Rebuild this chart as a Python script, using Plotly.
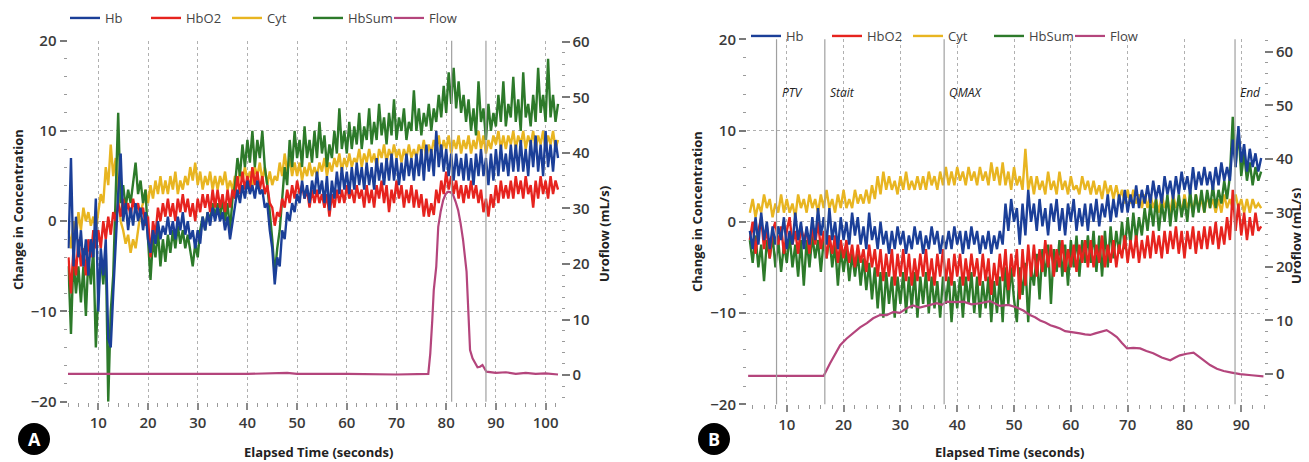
import numpy as np
import plotly.graph_objects as go
from plotly.subplots import make_subplots

# ---------------- data ----------------
STEP = 0.5          # sampling interval of the NIRS traces (s)
A_T0 = 4.0          # first sample time, panel A
B_T0 = 3.5          # first sample time, panel B

hb_a = [-3, 7, -5, 0.5, -4, -1, -5, -2, -6, -2, -4, 2.5, -10, -3, -6, -2, -13, -14, -8, -2,
        3, 7.5, 0, 2, -1, 1.5, -0.5, 2, 0, 1.5, -1, 1, -2, -3.5, -1, -2.5, 0, -2, -0.5, -1.5,
        0.5, -1.5, 0, -2, 0.5, -1, 1, -1.5, 0, -2, -1, -3, -1, -2.5, 0.5, -1, 1, -0.5, 1.5, 0,
        1.5, 0, 1, -1, 0.5, -2, 0, 1.5, 3.5, 2, 4, 2.5, 4.5, 3, 4, 2.5, 4.5, 3, 3.5, 1.5,
        2, -1, -3, -7, -4, -5, -1, -2, 1, 0, 2, 1, 3, 2, 4.5, 2.5, 4, 2, 4.5, 3,
        5.5, 3, 4.5, 2, 5, 1.2, 4.5, 2.5, 5.5, 3, 6, 3.5, 5.5, 3, 6, 3.5, 6.5, 4, 6, 3.5,
        6.5, 4, 6, 3.5, 7, 4.5, 6.5, 4, 7, 4.5, 7.5, 4.5, 7, 4, 6.5, 4.5, 7.5, 5, 7, 4.5,
        7.5, 5, 8, 4.5, 8.5, 5.5, 8, 5, 10, 6, 8.5, 5.5, 8, 5, 7.5, 4.5, 7.5, 5, 7, 4.5,
        7.5, 4.5, 7, 4, 7.5, 5, 8, 5, 7, 4, 7.5, 4.5, 8, 5, 8.5, 5.5, 7.5, 5, 8.5, 5.5,
        8.5, 5.5, 9, 5.5, 8, 5, 9, 6, 9.5, 5.5, 8.5, 5, 10, 6, 8.5, 5.5, 9, 7]

hbo2_a = [-4, -8, -3, -6, -2, -5, -3, -6, -2, -4, -1, -3, -1, -3, 0, -2, 0.5, -1.5, 1, 0,
          2, 0.5, 2.5, 1, 2, 0.5, 2.5, 1, 2, 0.5, 1.5, -0.5, 0.5, -4, 0, -1.5, 1.5, 0, 2, 0.5,
          2.5, 0.5, 2, 0, 2.5, 1, 3, 1, 2.5, 0.5, 2, 0, 2.5, 1, 3, 1.5, 3, 1, 3.5, 1.5,
          3.5, 1.5, 3, 1, 3.5, 1.5, 3.5, 2.5, 5, 3, 5.5, 3.5, 5, 3.5, 6, 4, 5.5, 3.5, 5, 3,
          4, 2, 1.5, -0.5, 1, 0.5, 2.5, 1.5, 3.5, 2, 4, 2.5, 4.5, 3, 4, 2.5, 3.5, 1.5, 3.5, 2,
          3.5, 2, 3, 1.5, 3, 0.5, 3, 1.5, 3.5, 2, 3.5, 2, 4, 2.5, 3.5, 2, 4, 2.5, 3.5, 1.5,
          4, 2, 3.5, 1.5, 4, 2.5, 4.5, 2, 4, 1, 3.5, 2, 4.5, 2.5, 4, 1.5, 3.5, 2, 4, 1.5,
          3.5, 1.5, 3, 0.5, 2.5, 0.5, 2, 0.7, 3.5, 2, 4.5, 3, 5.5, 3.5, 5, 3, 4.5, 2.5, 4, 2,
          4, 2.5, 4.5, 2.5, 4, 2, 3.5, 1, 2.5, 0.5, 3, 1.5, 4, 2, 4.5, 2.5, 4, 2.5, 4.5, 2.5,
          5, 3, 4.5, 2.5, 5, 3, 4, 1.5, 4.5, 2.5, 5, 3, 4.5, 2.5, 5, 3, 4.5, 3.5]

cyt_a = [-1, -3, 0, -2, 1, -1, 1.5, 0, 1, -0.5, 0.5, -1, 1, 3, 2, 6, 4, 8.5, 5, 7,
         3, 0, -1, -2.5, -1.5, -3.5, -2, -3, -1, 1, 2, 3.5, 2, 4, 2.5, 4.5, 3, 5, 3, 4.5,
         3, 5, 3.5, 5.5, 3, 4.5, 3.5, 5, 4, 6, 4.5, 6.5, 4, 5.5, 3.5, 5, 4, 5.5, 3.5, 5,
         3.5, 5, 4, 5.5, 3.5, 4.5, 3.5, 5, 4, 5.5, 4.5, 6, 4.5, 5.5, 4, 6, 5, 6.5, 4.5, 6,
         4, 5.5, 4, 5, 4.5, 6.5, 5, 7.5, 5.5, 7, 5, 6.5, 5, 6.5, 4.5, 6, 5, 6.5, 5, 6,
         5, 6.5, 5.5, 7, 5, 6.5, 5.5, 7, 6, 7.5, 5.5, 7, 6, 7.5, 6, 7, 6.5, 8, 6, 7.5,
         6.5, 8, 6.5, 7.5, 6, 8, 7, 8.5, 6.5, 8, 7, 8.5, 7, 8, 6.5, 8, 7, 8.5, 7, 8,
         7, 8.5, 7.5, 9, 7, 8.5, 7.5, 9, 8, 9.5, 7.5, 9, 8, 9.5, 7.5, 9, 8, 9.5, 7.5, 9,
         8, 9.5, 7.5, 9, 8, 10, 8, 9.5, 7.5, 9, 8, 9.5, 8.5, 10, 8, 9.5, 8, 9.5, 8.5, 10,
         8, 9.5, 8.5, 10, 8, 9.5, 8.5, 10, 8, 9.5, 8.5, 10, 8, 9.5, 8.5, 10, 8, 9]

hbsum_a = [-5, -12.5, -4, -8, -5, -9, -5, -10.5, -4, -7, -3, -14, -8, -4, -7, -3, -20, -10, -6, 2,
           12, 2, 4, 1.5, 3.5, 2, 4, 6.5, 3, 4.5, 2, 3.5, -2, -6.5, -2, -4, -1, -5, -2, -4.5,
           -1.5, -3.5, -1, -3, -0.5, -2.5, -1, -3, -1.5, -3.5, -5, -2.5, -4, -1, 0.5, -1, 1, 0, 2, 0.5,
           2, 0.5, 2.5, 0, 2, -1, 2.5, 4, 7, 5, 8.5, 6, 9, 6.5, 10, 6, 9, 7, 10, 6,
           4, 1, -2, -6, -3, -1, 3, 6, 4, 9, 6, 10, 7, 9, 6, 10.5, 7, 9, 6.5, 10,
           7, 11, 7.5, 9.5, 6, 8.5, 7, 10, 7.5, 12.5, 8, 10, 7.5, 11, 8, 10.5, 8.5, 12, 8, 10.5,
           9, 12.5, 8.5, 11, 9, 13, 9.5, 11.5, 8.5, 12, 9.5, 13.5, 9, 11.5, 10, 12.5, 9, 11, 10, 14.5,
           10, 12.5, 9.5, 12, 10.5, 13, 10, 12.5, 11, 14, 11.5, 15, 12, 16.5, 13, 17, 12.5, 15.5, 12, 14,
           11, 13.5, 10, 12.5, 9.5, 15.5, 11, 12.5, 9, 13, 10, 12, 10.5, 14, 11, 15.5, 10.5, 13, 11.5, 16,
           11, 13.5, 10, 16.5, 11.5, 13, 10.5, 14, 11, 17, 12, 14, 11, 18, 11.5, 14, 11, 13]

flow_a_t = [3.9, 10, 20, 30, 40, 48, 50, 60, 70, 76.4, 76.8, 77.2, 77.5, 78.0, 78.4, 78.9, 79.4,
            79.9, 80.4, 80.9, 81.4, 81.9, 82.4, 82.9, 83.4, 84.1, 84.5, 84.8, 85.3, 85.8, 86.3,
            86.8, 87.3, 88.1, 89, 90, 92, 94, 96, 98, 100, 102.5]
flow_a_v = [0.2, 0.2, 0.2, 0.1, 0.2, 0.4, 0.2, 0.2, 0.1, 0.2, 3.9, 9.9, 15.3, 19.5, 26.7, 29.5, 31.5,
            32.6, 33.0, 32.9, 32.4, 31.2, 29.7, 27.3, 24.3, 18.6, 10.0, 4.5, 3.0, 2.2, 1.4,
            1.5, 1.8, 0.6, 0.5, 0.4, 0.5, 0.2, 0.4, 0.2, 0.3, 0.1]

hb_b = [-1, -3, 0.5, -2.5, 1, -2, 0, -3, -0.5, -2.5, -0.5, -2, 0.5, -3, -1, -2.5, 1, -2, 0, -3,
        -0.5, -2.5, 0.5, -2, 1.5, -1.5, 0.5, -2.5, 1.5, -2, 0, -3, 0.5, -2, 0, -2.5, 1, -1.5, 0.5, -2.5,
        -0.5, -3, 1, -2, -0.5, -3, 0, -2.5, -1, -3.5, -1, -3, -0.5, -2.5, -1, -3.5, -1.5, -3, -0.5, -2.5,
        -1, -3.5, -1.5, -3, -0.5, -2.5, -1, -3.5, -1.5, -3, -1, -3, -0.5, -2.5, -1, -3.5, -1, -3, -0.5, -2.5,
        -1, -3.5, -1.5, -3, -1, -3.5, -1.5, -3, -1, -2.5, 2, -1, 2.5, 0, 1.5, -2.5, 2, -1.5, 3.5, 0,
        2, -1, 2.5, -0.5, 1.5, -1.5, 2, 0, 2.5, -1, 1.5, -1.5, 2, 0, 2.5, -1, 1.5, -0.5, 2, -1,
        2, 0, 2.5, -0.5, 2, 0.5, 3, 0, 2.5, 0.5, 3, 1, 3.5, 1, 3, 1.5, 4, 1.5, 3.5, 2,
        4, 2, 4.5, 2.5, 4, 2, 5, 3, 4.5, 2.5, 5, 3, 5.5, 3.5, 5, 3, 6, 3.5, 5.5, 4,
        6, 4, 5.5, 3.5, 6, 4, 6.5, 4.5, 6, 4.5, 9, 6, 10.5, 6.5, 8.5, 5.5, 8, 6, 7.5, 5.5,
        7]

hbo2_b = [-2, 0, -3.5, -1, 0.5, -3, -0.5, -4, -1, 0, -2.5, -0.5, -3.5, -1, 0.5, -2.5, -1, -3.5, -0.5, -2,
          -1, -3.5, -0.5, -2.5, 0, -3, -1, -4, -1.5, -3.5, -1.5, -4.5, -2, -4, -2, -4.5, -2.5, -5, -2.5, -4.5,
          -3, -5.5, -2.5, -5, -3, -6, -3, -6.5, -3.5, -6, -3, -7, -3.5, -6, -3, -6.5, -3.5, -7, -4, -6.5,
          -3.5, -6, -3, -6.5, -4, -7, -3.5, -6, -3, -6.5, -4, -7, -3.5, -6, -3.5, -7, -4, -6.5, -3.5, -6,
          -4, -7, -3.5, -6.5, -4, -8, -4.5, -7, -3.5, -6.5, -3, -7.5, -3.5, -6, -3, -8.5, -3, -7, -2.5, -6,
          -2.5, -6, -3, -5.5, -2, -5, -2.5, -6, -3, -5, -2, -5.5, -3, -5, -2.5, -5.5, -2.5, -4.5, -2, -5,
          -2, -5, -2.5, -4.5, -1.5, -5, -2.5, -4.5, -2, -5, -2.5, -4, -1.5, -4.5, -2, -4, -1.5, -4.5, -2, -4,
          -1.5, -4, -1, -3.5, -1.5, -4, -1, -3.5, -1, -3, -0.5, -3.5, -1, -4, -1, -3, -0.5, -3.5, -1, -3,
          -0.5, -3, -0.5, -2.5, 0, -3, -0.5, -2.5, 0.5, -2, 3.5, -1, 2, -1.5, 1, -2, 0.5, -1.5, 1, -1,
          -0.5]

cyt_b = [1, 2.5, 0.5, 2, 1, 3, 1.5, 2.5, 0.5, 2, 1, 3, 1, 2.5, 1, 2, 0.5, 3, 1.5, 2.5,
         1, 3, 1.5, 2.5, 1, 3, 1.5, 3.5, 1.5, 2.5, 1, 3, 1.5, 3.5, 1.5, 2.5, 1.5, 3.5, 2, 3,
         2, 3.5, 2, 4, 2.5, 5, 3, 5.5, 3.5, 5, 3.5, 4.5, 3, 5, 3.5, 5.5, 3.5, 4.5, 3.5, 5,
         3.5, 5, 3.5, 5.5, 4, 5, 3.5, 5.5, 4, 6, 4, 5.5, 4, 6, 4.5, 5.5, 4, 6, 4.5, 5.5,
         4, 6, 4.5, 5.5, 4, 6.5, 4.5, 6, 4, 6.5, 4, 5.5, 3.5, 6, 4, 5, 3.5, 8, 3.5, 5,
         3, 5, 3.5, 4.5, 3, 5.5, 3.5, 4.5, 3, 5.5, 3.5, 4.5, 3, 5, 3.5, 4, 3, 5, 3.5, 4.5,
         3, 4.5, 3, 4, 2.5, 4.5, 3, 4, 2.5, 4, 2.5, 3.5, 2, 3.5, 2, 3.5, 2, 3, 1.5, 3,
         1.5, 3, 1.5, 2.5, 1, 3, 1.5, 2.5, 1, 3, 1.5, 2.5, 1, 3, 1.5, 2.5, 1, 3, 1.5, 2.5,
         1, 3, 1.5, 2.5, 1, 2.5, 1, 3, 1.5, 2.5, 1.5, 3, 1.5, 2.5, 1, 2.5, 1, 2.5, 1.5, 2,
         1.5]

hbsum_b = [-2, -4.5, -1.5, -5, -2.5, -6.5, -2, -4, -1.5, -5, -2, -5.5, -2.5, -4.5, -1.5, -5, -2.5, -6, -2, -7,
           -2, -5, -1.5, -4, -2, -5.5, -2, -4, -1.5, -5, -2.5, -7, -3, -5.5, -3, -6.5, -3.5, -6, -3.5, -7,
           -4, -7.5, -4.5, -8.5, -5, -9.5, -5.5, -10.5, -5.5, -9, -6, -10.5, -6, -9, -5.5, -10, -6, -9.5, -5.5, -10.5,
           -6, -9, -5.5, -10, -6, -9.5, -6.5, -10.5, -6, -9, -6, -11, -6.5, -9.5, -6, -10.5, -6, -9, -5.5, -10,
           -6, -10.5, -6.5, -9.5, -6, -11, -6.5, -10, -6, -11, -5, -9, -5, -8.5, -11, -5, -8, -4.5, -11, -5,
           -7, -3.5, -8.5, -3, -6, -2.5, -9, -3, -5.5, -2, -6, -2.5, -7, -2, -5, -1.5, -6, -2, -4.5, -1.5,
           -4.5, -1, -5.5, -1.5, -6, -1, -5, -0.5, -4, -1, -3.5, 0, -3, 0.5, -2.5, 1, -2, 0.5, -1.5, 1.5,
           -1, 2, -0.5, 2.5, -1, 2, 0, 3, -0.5, 2.5, 0, 3, 0.5, 2.5, 0, 3.5, 0.5, 3, 1, 3.5,
           1, 3.5, 1.5, 4, 1.5, 3.5, 2, 4.5, 2.5, 5, 11.5, 6, 10, 5, 7.5, 4.5, 6.5, 4, 6, 4.5,
           5.5]

flow_b_t = [3.2, 16.5, 17.6, 18.5, 19.4, 20.5, 21.7, 22.9, 24.1, 25.2, 26.4, 27.6, 28.8, 29.9, 31.0,
            32.2, 33.4, 34.6, 35.5, 36.4, 37.3, 38.2, 39.6, 41.1, 42.5, 44.0, 45.8, 47.5, 49.0, 50.5,
            51.7, 52.8, 53.7, 54.6, 55.5, 56.4, 57.3, 58.1, 59.0, 59.9, 60.8, 61.6, 62.5, 63.4, 64.3,
            65.2, 66.3, 67.2, 68.1, 69.0, 69.9, 71.0, 72.2, 73.3, 74.5, 76.0, 77.5, 78.4, 79.2, 80.4,
            81.6, 83.0, 84.5, 85.7, 86.9, 88.3, 89.8, 91.8, 93.9]
flow_b_v = [-0.3, -0.3, 2.0, 3.8, 5.4, 6.6, 7.6, 8.7, 9.5, 10.4, 11.0, 11.0, 11.6, 11.4, 12.2,
            12.8, 12.4, 12.7, 13.0, 13.2, 12.9, 13.5, 13.4, 13.5, 13.0, 13.2, 13.6, 12.7, 12.9, 12.4,
            11.8, 11.0, 10.6, 10.0, 9.6, 9.1, 8.8, 8.5, 8.0, 7.9, 7.8, 7.6, 7.4, 7.3, 7.6,
            7.9, 8.2, 7.6, 6.9, 5.8, 4.8, 4.9, 4.8, 4.3, 3.9, 3.1, 2.6, 3.1, 3.5, 3.8,
            4.0, 2.9, 1.7, 1.0, 0.6, 0.3, 0.0, -0.2, -0.4]

events_a = [81.1, 88.0]
events_b = [8.2, 16.7, 37.7, 88.9]
event_labels_b = ["PTV", "Stait", "QMAX", "End"]

conc_ticks = [-20, -10, 0, 10, 20]
flow_ticks = [0, 10, 20, 30, 40, 50, 60]
time_ticks_a = [10, 20, 30, 40, 50, 60, 70, 80, 90, 100]
time_ticks_b = [10, 20, 30, 40, 50, 60, 70, 80, 90]

# ---------------- styling ----------------
PAGE_OFF = 8          # default body margin of the page holding the figure
W, H = 1309 - PAGE_OFF, 462 - PAGE_OFF
FONT = "Open Sans"
COLORS = {"Hb": "#1b3f98", "HbO2": "#e6231e", "Cyt": "#e8b521",
          "HbSum": "#2d7a2a", "Flow": "#b4457c"}
RANK = {"Hb": 1, "HbO2": 2, "Cyt": 3, "HbSum": 4, "Flow": 5}


def px(x):
    return (x - PAGE_OFF) / W


def py(y):
    return 1 - (y - PAGE_OFF) / H


fig = make_subplots(rows=1, cols=2,
                    specs=[[{"secondary_y": True}, {"secondary_y": True}]])


def add_panel(col, t0, series, ft, fv, legend):
    for name, ys in series:
        xs = t0 + STEP * np.arange(len(ys))
        fig.add_trace(go.Scatter(x=xs, y=ys, mode="lines", name=name,
                                 line=dict(color=COLORS[name], width=2.4),
                                 legend=legend, legendrank=RANK[name],
                                 hoverinfo="skip"),
                      row=1, col=col, secondary_y=False)
    fig.add_trace(go.Scatter(x=ft, y=fv, mode="lines", name="Flow",
                             line=dict(color=COLORS["Flow"], width=2.2),
                             legend=legend, legendrank=RANK["Flow"],
                             hoverinfo="skip"),
                  row=1, col=col, secondary_y=True)


add_panel(1, A_T0, [("Cyt", cyt_a), ("HbSum", hbsum_a), ("HbO2", hbo2_a), ("Hb", hb_a)],
          flow_a_t, flow_a_v, "legend")
add_panel(2, B_T0, [("Cyt", cyt_b), ("HbSum", hbsum_b), ("HbO2", hbo2_b), ("Hb", hb_b)],
          flow_b_t, flow_b_v, "legend2")

tickfont = dict(family=FONT, size=15, color="#3a3a3a", weight=600)
grid = dict(showgrid=True, gridcolor="#b0b0b0", griddash="dot", gridwidth=1)


def xaxis(domain, rng, ticks):
    return dict(domain=domain, range=rng, tickvals=ticks, ticks="outside", ticklen=7,
                tickwidth=1.5, tickcolor="#8a8a8a", tickfont=tickfont, zeroline=False,
                showline=False, automargin=False,
                minor=dict(dtick=2, tick0=0, ticks="outside", ticklen=4, tickwidth=1.2,
                           tickcolor="#9a9a9a", showgrid=False), **grid)


def yleft(domain):
    return dict(domain=domain, range=[-20, 20], tickvals=conc_ticks, ticks="outside",
                ticklen=7, tickwidth=2, tickcolor="#7a7a7a", tickfont=tickfont,
                zeroline=False, showline=False, automargin=False,
                minor=dict(dtick=2, tick0=0, ticks="outside", ticklen=3, tickwidth=1.2,
                           tickcolor="#9a9a9a", showgrid=False), **grid)


def yright(rng):
    return dict(range=rng, tickvals=flow_ticks, ticks="outside", ticklen=8, tickwidth=2,
                tickcolor="#7a7a7a", tickfont=tickfont, showgrid=False, zeroline=False,
                showline=False, automargin=False,
                minor=dict(dtick=2, tick0=0, ticks="outside", ticklen=3, tickwidth=1.2,
                           tickcolor="#9a9a9a", showgrid=False))


dom_a_y = [py(401.7), py(40.7)]
dom_b_y = [py(404.3), py(39.3)]

legend_common = dict(orientation="h", bgcolor="rgba(0,0,0,0)", borderwidth=0,
                     font=dict(family=FONT, size=13, color="#444444"),
                     entrywidth=36, entrywidthmode="pixels", itemwidth=30,
                     xanchor="left", yanchor="middle", traceorder="normal")

fig.update_layout(
    template="none",
    width=W, height=H, autosize=False,
    margin=dict(l=0, r=0, t=0, b=0, autoexpand=False),
    paper_bgcolor="white", plot_bgcolor="white",
    showlegend=True,
    xaxis=xaxis([px(67.5), px(560.5)], [3.8, 103], time_ticks_a),
    yaxis=yleft(dom_a_y),
    yaxis2=yright([-4.8, 60.2]),
    xaxis2=xaxis([px(747), px(1264)], [3.0, 94.0], time_ticks_b),
    yaxis3=yleft(dom_b_y),
    yaxis4=yright([-5.6, 62.3]),
    legend=dict(x=px(65), y=py(18), **legend_common),
    legend2=dict(x=px(746), y=py(36), **legend_common),
)

# event markers
for e in events_a:
    fig.add_vline(x=e, line=dict(color="#a0a0a0", width=1.2), row=1, col=1)
for e, lab in zip(events_b, event_labels_b):
    fig.add_vline(x=e, line=dict(color="#a0a0a0", width=1.2), row=1, col=2)
    fig.add_annotation(x=e, y=14.2, xref="x2", yref="y3", text="<i>%s</i>" % lab,
                       showarrow=False, xanchor="left", xshift=3,
                       font=dict(family=FONT, size=12, color="#222222"))

# axis titles
title_font = dict(family=FONT, size=13, color="#222222", weight=700)
for x, y, text, ang in [(18, 210, "Change in Concentration", -90),
                        (697, 211, "Change in Concentration", -90),
                        (604, 234, "Uroflow (mL/s)", -90),
                        (1296, 236, "Uroflow (mL/s)", -90),
                        (318, 452, "Elapsed Time (seconds)", 0),
                        (1010, 452, "Elapsed Time (seconds)", 0)]:
    fig.add_annotation(x=px(x), y=py(y), xref="paper", yref="paper", text=text,
                       textangle=ang, showarrow=False, xanchor="center", yanchor="middle",
                       font=title_font)

# panel badges
for cx, cy, lab in [(34, 439, "A"), (714, 439, "B")]:
    r = 16
    fig.add_shape(type="circle", xref="paper", yref="paper",
                  x0=px(cx - r), x1=px(cx + r), y0=py(cy + r), y1=py(cy - r),
                  fillcolor="black", line=dict(color="black", width=0))
    fig.add_annotation(x=px(cx), y=py(cy), xref="paper", yref="paper", text=lab,
                       showarrow=False, xanchor="center", yanchor="middle",
                       font=dict(family=FONT, size=18, color="white", weight=700))

fig.write_html("out.html")
